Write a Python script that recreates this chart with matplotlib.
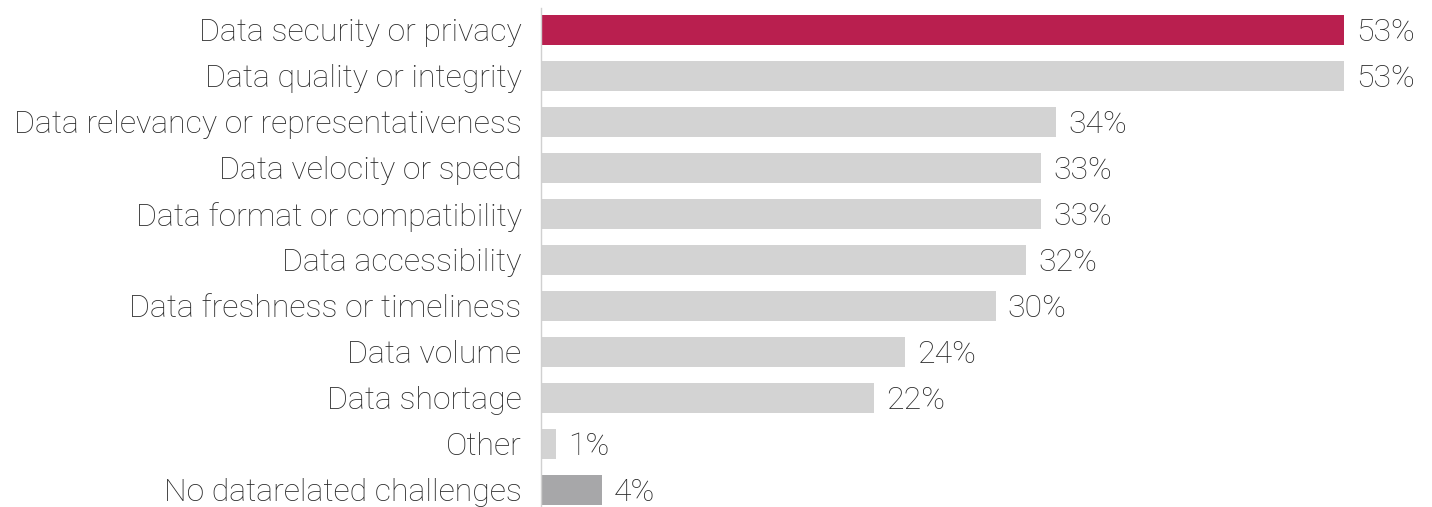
import matplotlib
matplotlib.use("Agg")
import matplotlib.pyplot as plt

categories = [
    "Data security or privacy",
    "Data quality or integrity",
    "Data relevancy or representativeness",
    "Data velocity or speed",
    "Data format or compatibility",
    "Data accessibility",
    "Data freshness or timeliness",
    "Data volume",
    "Data shortage",
    "Other",
    "No datarelated challenges",
]
values = [53, 53, 34, 33, 33, 32, 30, 24, 22, 1, 4]
colors = ["#B91F4F"] + ["#D3D3D3"] * 9 + ["#A7A7A9"]

plt.rcParams["font.family"] = ["Roboto", "DejaVu Sans"]
plt.rcParams["font.weight"] = "light"

fig = plt.figure(figsize=(14.32, 5.07), dpi=100)
ax = fig.add_axes([541 / 1432, 0, 1 - 541 / 1432, 1 - 8 / 507])

y = list(range(len(categories)))
ax.barh(y, values, height=0.65, color=colors)

for yi, v in zip(y, values):
    ax.text(v + 0.8, yi, f"{v}%", va="center_baseline", ha="left", fontsize=23,
            color="#2a2a2a", fontweight="light")

ax.set_yticks(y)
ax.set_yticklabels(categories, fontsize=23, color="#2a2a2a", fontweight="light",
                   va="center_baseline")
ax.tick_params(axis="y", length=0, pad=14)
ax.set_xticks([])
ax.set_xlim(0, (1432 - 541) / 15.15)
ax.set_ylim(10.37, -0.478)

for s in ["top", "right", "bottom"]:
    ax.spines[s].set_visible(False)
ax.spines["left"].set_color("#D0D0D0")
ax.spines["left"].set_linewidth(1)

fig.savefig("out.png", dpi=100)
